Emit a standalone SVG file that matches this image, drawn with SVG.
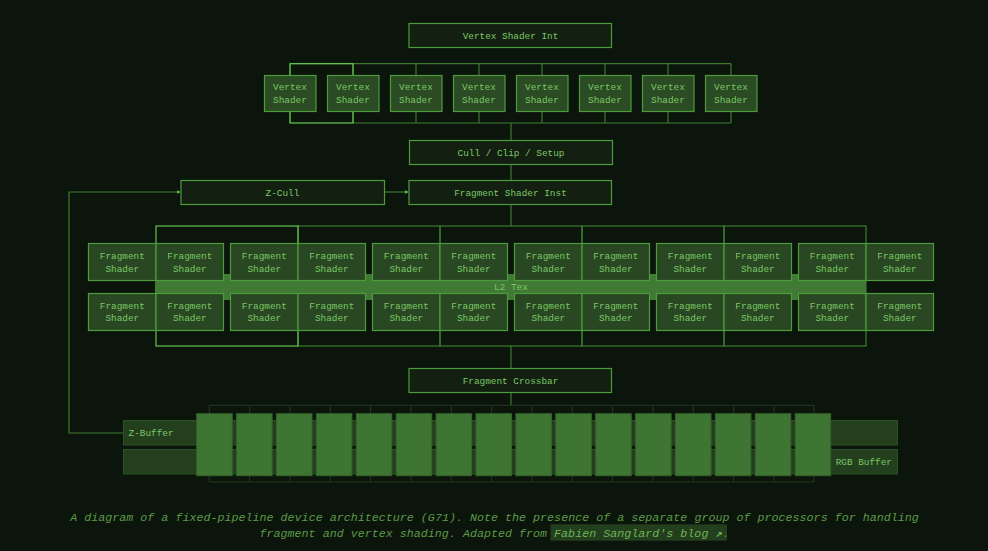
<svg xmlns="http://www.w3.org/2000/svg" width="988" height="551" viewBox="0 0 988 551">
<defs>
<style>
.bg{fill:#0c150c}
.box{fill:#132011;stroke:#4e9b3c;stroke-width:1.2}
.vs{fill:#2a4b23;stroke:#4e9b3c;stroke-width:1.2}
.fs{fill:#284722;stroke:#4e9b3c;stroke-width:1.2}
.t{font-family:"Liberation Mono","DejaVu Sans Mono",monospace;font-size:9.4px;fill:#7cc866;text-anchor:middle}
.tl{font-family:"Liberation Mono","DejaVu Sans Mono",monospace;font-size:9.4px;fill:#7cc866}
.con{fill:none;stroke:#3d7a30;stroke-width:1.2}
.hi{fill:none;stroke:#62c04c;stroke-width:1.2}
.grid{fill:none;stroke:#1f3a1b;stroke-width:1}
.band{fill:#243f1e;stroke:#2c5025;stroke-width:1}
.blk{fill:#3f7532;stroke:#35632b;stroke-width:1}
.l2{fill:#417a35}
.cap{font-family:"Liberation Mono","DejaVu Sans Mono",monospace;font-size:11.7px;font-style:italic;fill:#5c9a48;text-anchor:middle}
</style>
<marker id="arr" viewBox="0 0 6 6" refX="6" refY="3" markerWidth="4" markerHeight="4" orient="auto" markerUnits="userSpaceOnUse">
<path d="M0,0 L6,3 L0,6 Z" fill="#62c04c"/>
</marker>
</defs>
<rect class="bg" x="0" y="0" width="988" height="551"/>

<g id="connectors">
<path class="con" d="M290,63.7 H731 M290,63.7 V75 M353,63.7 V75 M416,63.7 V75 M479,63.7 V75 M542,63.7 V75 M605,63.7 V75 M668,63.7 V75 M731,63.7 V75"/>
<path class="con" d="M290,123 H731 M290,111 V123 M353,111 V123 M416,111 V123 M479,111 V123 M542,111 V123 M605,111 V123 M668,111 V123 M731,111 V123"/>
<path class="hi" d="M290,75 V63.7 H353 V75 M290,111 V123 H353 V111"/>
<path class="con" d="M511,123 V140 M511,164 V180"/>
<path class="con" d="M384.5,192 H408.5" marker-end="url(#arr)"/>
<path class="con" d="M123,433 H69 V192 H180.5" marker-end="url(#arr)"/>
<path class="con" d="M511,204.5 V226"/>
<rect class="con" x="298" y="226" width="142" height="120"/>
<rect class="con" x="440" y="226" width="142" height="120"/>
<rect class="con" x="582" y="226" width="142" height="120"/>
<rect class="con" x="724" y="226" width="142" height="120"/>
<rect class="hi" x="156" y="226" width="142" height="120"/>
<path class="con" d="M511,346 V368 M511,392.5 V405.3"/>
</g>

<g id="vertex-shader-int">
<rect class="box" x="409" y="23.5" width="202.5" height="24"/>
<text class="t" x="510.5" y="38.8">Vertex Shader Int</text>
</g>

<g id="vertex-shaders">
<g id="vs1"><rect class="vs" x="264.5" y="75.5" width="51.5" height="36"/><text class="t" x="290" y="90">Vertex</text><text class="t" x="290" y="103">Shader</text></g>
<g id="vs2"><rect class="vs" x="327.5" y="75.5" width="51.5" height="36"/><text class="t" x="353" y="90">Vertex</text><text class="t" x="353" y="103">Shader</text></g>
<g id="vs3"><rect class="vs" x="390.5" y="75.5" width="51.5" height="36"/><text class="t" x="416" y="90">Vertex</text><text class="t" x="416" y="103">Shader</text></g>
<g id="vs4"><rect class="vs" x="453.5" y="75.5" width="51.5" height="36"/><text class="t" x="479" y="90">Vertex</text><text class="t" x="479" y="103">Shader</text></g>
<g id="vs5"><rect class="vs" x="516.5" y="75.5" width="51.5" height="36"/><text class="t" x="542" y="90">Vertex</text><text class="t" x="542" y="103">Shader</text></g>
<g id="vs6"><rect class="vs" x="579.5" y="75.5" width="51.5" height="36"/><text class="t" x="605" y="90">Vertex</text><text class="t" x="605" y="103">Shader</text></g>
<g id="vs7"><rect class="vs" x="642.5" y="75.5" width="51.5" height="36"/><text class="t" x="668" y="90">Vertex</text><text class="t" x="668" y="103">Shader</text></g>
<g id="vs8"><rect class="vs" x="705.5" y="75.5" width="51.5" height="36"/><text class="t" x="731" y="90">Vertex</text><text class="t" x="731" y="103">Shader</text></g>
</g>

<g id="cull-clip-setup">
<rect class="box" x="409.5" y="140.5" width="203" height="24"/>
<text class="t" x="511" y="155.8">Cull / Clip / Setup</text>
</g>

<g id="z-cull">
<rect class="box" x="181" y="180.5" width="203.5" height="24"/>
<text class="t" x="282.5" y="195.8">Z-Cull</text>
</g>

<g id="fragment-shader-inst">
<rect class="box" x="409" y="180.5" width="202.5" height="24"/>
<text class="t" x="510.5" y="195.8">Fragment Shader Inst</text>
</g>

<g id="l2-tex">
<rect class="l2" x="156" y="274" width="710" height="26"/>
</g>

<g id="fragment-shaders">
<g id="fs-top">
<rect class="fs" x="88.5" y="243.5" width="67.5" height="37"/><text class="t" x="122.3" y="259">Fragment</text><text class="t" x="122.3" y="271.6">Shader</text>
<rect class="fs" x="156" y="243.5" width="67.5" height="37"/><text class="t" x="189.8" y="259">Fragment</text><text class="t" x="189.8" y="271.6">Shader</text>
<rect class="fs" x="230.5" y="243.5" width="67.5" height="37"/><text class="t" x="264.3" y="259">Fragment</text><text class="t" x="264.3" y="271.6">Shader</text>
<rect class="fs" x="298" y="243.5" width="67.5" height="37"/><text class="t" x="331.8" y="259">Fragment</text><text class="t" x="331.8" y="271.6">Shader</text>
<rect class="fs" x="372.5" y="243.5" width="67.5" height="37"/><text class="t" x="406.3" y="259">Fragment</text><text class="t" x="406.3" y="271.6">Shader</text>
<rect class="fs" x="440" y="243.5" width="67.5" height="37"/><text class="t" x="473.8" y="259">Fragment</text><text class="t" x="473.8" y="271.6">Shader</text>
<rect class="fs" x="514.5" y="243.5" width="67.5" height="37"/><text class="t" x="548.3" y="259">Fragment</text><text class="t" x="548.3" y="271.6">Shader</text>
<rect class="fs" x="582" y="243.5" width="67.5" height="37"/><text class="t" x="615.8" y="259">Fragment</text><text class="t" x="615.8" y="271.6">Shader</text>
<rect class="fs" x="656.5" y="243.5" width="67.5" height="37"/><text class="t" x="690.3" y="259">Fragment</text><text class="t" x="690.3" y="271.6">Shader</text>
<rect class="fs" x="724" y="243.5" width="67.5" height="37"/><text class="t" x="757.8" y="259">Fragment</text><text class="t" x="757.8" y="271.6">Shader</text>
<rect class="fs" x="798.5" y="243.5" width="67.5" height="37"/><text class="t" x="832.3" y="259">Fragment</text><text class="t" x="832.3" y="271.6">Shader</text>
<rect class="fs" x="866" y="243.5" width="67.5" height="37"/><text class="t" x="899.8" y="259">Fragment</text><text class="t" x="899.8" y="271.6">Shader</text>
</g>
<g id="fs-bottom">
<rect class="fs" x="88.5" y="293.5" width="67.5" height="37"/><text class="t" x="122.3" y="308.6">Fragment</text><text class="t" x="122.3" y="321.3">Shader</text>
<rect class="fs" x="156" y="293.5" width="67.5" height="37"/><text class="t" x="189.8" y="308.6">Fragment</text><text class="t" x="189.8" y="321.3">Shader</text>
<rect class="fs" x="230.5" y="293.5" width="67.5" height="37"/><text class="t" x="264.3" y="308.6">Fragment</text><text class="t" x="264.3" y="321.3">Shader</text>
<rect class="fs" x="298" y="293.5" width="67.5" height="37"/><text class="t" x="331.8" y="308.6">Fragment</text><text class="t" x="331.8" y="321.3">Shader</text>
<rect class="fs" x="372.5" y="293.5" width="67.5" height="37"/><text class="t" x="406.3" y="308.6">Fragment</text><text class="t" x="406.3" y="321.3">Shader</text>
<rect class="fs" x="440" y="293.5" width="67.5" height="37"/><text class="t" x="473.8" y="308.6">Fragment</text><text class="t" x="473.8" y="321.3">Shader</text>
<rect class="fs" x="514.5" y="293.5" width="67.5" height="37"/><text class="t" x="548.3" y="308.6">Fragment</text><text class="t" x="548.3" y="321.3">Shader</text>
<rect class="fs" x="582" y="293.5" width="67.5" height="37"/><text class="t" x="615.8" y="308.6">Fragment</text><text class="t" x="615.8" y="321.3">Shader</text>
<rect class="fs" x="656.5" y="293.5" width="67.5" height="37"/><text class="t" x="690.3" y="308.6">Fragment</text><text class="t" x="690.3" y="321.3">Shader</text>
<rect class="fs" x="724" y="293.5" width="67.5" height="37"/><text class="t" x="757.8" y="308.6">Fragment</text><text class="t" x="757.8" y="321.3">Shader</text>
<rect class="fs" x="798.5" y="293.5" width="67.5" height="37"/><text class="t" x="832.3" y="308.6">Fragment</text><text class="t" x="832.3" y="321.3">Shader</text>
<rect class="fs" x="866" y="293.5" width="67.5" height="37"/><text class="t" x="899.8" y="308.6">Fragment</text><text class="t" x="899.8" y="321.3">Shader</text>
</g>
<text class="t" x="511" y="290.3">L2 Tex</text>
</g>

<g id="fragment-crossbar">
<rect class="box" x="409" y="368.5" width="202.5" height="24"/>
<text class="t" x="510.5" y="383.8">Fragment Crossbar</text>
</g>

<g id="memory">
<rect class="grid" x="209.3" y="405.3" width="604.7" height="76.7"/>
<path class="grid" d="M249.6,405.3V482 M290,405.3V482 M330.3,405.3V482 M370.6,405.3V482 M411,405.3V482 M451.3,405.3V482 M491.6,405.3V482 M532,405.3V482 M572.3,405.3V482 M612.6,405.3V482 M653,405.3V482 M693.3,405.3V482 M733.6,405.3V482 M774,405.3V482"/>
<g id="z-buffer"><rect class="band" x="123.5" y="420.5" width="774" height="24.5"/></g>
<g id="rgb-buffer"><rect class="band" x="123.5" y="449.5" width="774" height="24.5"/></g>
<g id="blocks">
<rect class="blk" x="196.7" y="413.7" width="35.5" height="62"/>
<rect class="blk" x="236.6" y="413.7" width="35.5" height="62"/>
<rect class="blk" x="276.5" y="413.7" width="35.5" height="62"/>
<rect class="blk" x="316.4" y="413.7" width="35.5" height="62"/>
<rect class="blk" x="356.3" y="413.7" width="35.5" height="62"/>
<rect class="blk" x="396.2" y="413.7" width="35.5" height="62"/>
<rect class="blk" x="436.1" y="413.7" width="35.5" height="62"/>
<rect class="blk" x="476" y="413.7" width="35.5" height="62"/>
<rect class="blk" x="515.9" y="413.7" width="35.5" height="62"/>
<rect class="blk" x="555.8" y="413.7" width="35.5" height="62"/>
<rect class="blk" x="595.7" y="413.7" width="35.5" height="62"/>
<rect class="blk" x="635.6" y="413.7" width="35.5" height="62"/>
<rect class="blk" x="675.5" y="413.7" width="35.5" height="62"/>
<rect class="blk" x="715.4" y="413.7" width="35.5" height="62"/>
<rect class="blk" x="755.3" y="413.7" width="35.5" height="62"/>
<rect class="blk" x="795.2" y="413.7" width="35.5" height="62"/>
</g>
<text class="tl" x="128.5" y="436.3">Z-Buffer</text>
<text class="tl" x="892" y="465.3" text-anchor="end">RGB Buffer</text>
</g>

<g id="caption">
<rect x="550.5" y="524.3" width="176.5" height="16.4" fill="#243f1e"/>
<text class="cap" x="494.5" y="521.3">A diagram of a fixed-pipeline device architecture (G71). Note the presence of a separate group of processors for handling</text>
<text class="cap" x="494.5" y="536.6">fragment and vertex shading. Adapted from <tspan fill="#6cb455">Fabien Sanglard's blog <tspan font-family="DejaVu Sans Mono, monospace" font-style="normal" font-weight="bold">↗</tspan></tspan>.</text>
</g>
</svg>
